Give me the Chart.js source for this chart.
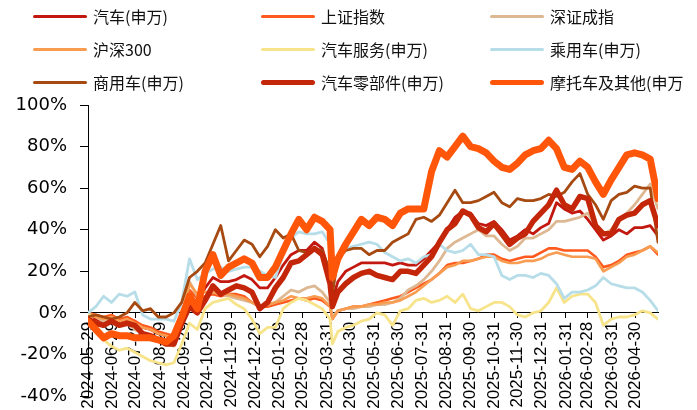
<!DOCTYPE html>
<html><head><meta charset="utf-8">
<script src="https://cdn.jsdelivr.net/npm/chart.js@4.4.1/dist/chart.umd.min.js"></script>
<style>
body{margin:0;background:#fff;}
#wrap{position:relative;width:697px;height:410px;overflow:hidden;}
#c{position:absolute;left:0;top:0;}
.lg{position:absolute;height:20px;}
.lg .ln{position:absolute;left:0;width:54px;}
.lg .tx{position:absolute;left:60px;top:0;font-family:"Noto Sans CJK SC";font-size:16px;line-height:20px;white-space:nowrap;color:#111;}
</style></head>
<body>
<div id="wrap"><canvas id="c" width="697" height="410"></canvas></div>
<script>
const dates = ['2024-05-29','2024-06-08','2024-06-18','2024-06-28','2024-07-08','2024-07-18','2024-07-28','2024-08-07','2024-08-17','2024-08-27','2024-09-06','2024-09-16','2024-09-26','2024-10-06','2024-10-16','2024-10-26','2024-11-05','2024-11-15','2024-11-25','2024-12-05','2024-12-15','2024-12-25',
'2025-01-04','2025-01-14','2025-01-24','2025-02-03','2025-02-13','2025-02-23','2025-03-05','2025-03-15','2025-03-25','2025-04-04','2025-04-07','2025-04-14','2025-04-24','2025-05-04','2025-05-14','2025-05-24','2025-06-03','2025-06-13','2025-06-23','2025-07-03','2025-07-13','2025-07-23','2025-08-02','2025-08-12','2025-08-22','2025-09-01','2025-09-11','2025-09-21','2025-10-01','2025-10-11','2025-10-21','2025-10-31','2025-11-10','2025-11-20','2025-11-30','2025-12-10','2025-12-20','2025-12-30',
'2026-01-09','2026-01-19','2026-01-29','2026-02-08','2026-02-18','2026-02-28','2026-03-10','2026-03-20','2026-03-30','2026-04-09','2026-04-19','2026-04-29','2026-05-09','2026-05-19','2026-05-29'];

const tickDates = ['2024-05-29','2024-06-29','2024-07-29','2024-08-29','2024-09-29','2024-10-29','2024-11-29','2024-12-29','2025-01-29','2025-02-28','2025-03-31','2025-04-30','2025-05-31','2025-06-30','2025-07-31','2025-08-31','2025-09-30','2025-10-31','2025-11-30','2025-12-31','2026-01-31','2026-02-28','2026-03-31','2026-04-30'];

const yTicks = [-40,-20,0,20,40,60,80,100];

const autoSW = [-2,-3,-4,-2,-4,-3,-4,-7,-8,-10,-11,-11,-2,6,5,12,17,15,15,16,18,16,12,12,17,23,28,30,30,34,31,18,6,
15,20,22,24,24,24,24,23,24,23,23,26,30,34,40,46,49,48,43,42,44,40,35,37,40,38,41,43,53,50,48,49,45,40,35,37,40,38,41,41,42,37];

const shComp = [0,-1,-2,-1,-3,-2,-4,-6,-7,-9,-10,-11,-3,11,7,8,9,8,9,9,8,5,3,3,4,5,6,7,6,7,6,3,-3,
1,2,3,3,4,5,6,7,8,10,12,14,16,19,23,24,24,25,26,28,28,26,25,26,27,27,29,31,31,30,30,30,30,27,22,23,25,28,29,30,32,28];

const szComp = [0,-2,-4,-3,-6,-5,-8,-10,-11,-13,-15,-16,-3,15,8,10,10,9,8,7,6,5,3,4,5,8,11,10,12,13,10,5,-2,
1,2,2,3,3,4,4,5,7,11,13,16,20,25,31,34,36,38,40,37,37,33,30,32,36,36,38,40,44,44,45,46,48,42,38,40,45,48,52,57,62,50];

const hs300 = [0,-2,-3,-2,-4,-3,-5,-7,-8,-10,-11,-12,-2,14,9,10,10,9,9,8,7,5,3,4,5,6,8,7,7,8,7,3,-3,
1,2,3,3,4,4,5,5,6,8,10,13,16,19,22,23,25,25,26,27,27,25,24,24,25,25,26,28,29,28,27,27,27,26,20,22,24,27,28,30,32,29];

const autoService = [0,-6,-13,-16,-18,-17,-19,-21,-23,-24,-25,-24,-15,-5,-8,2,5,6,7,4,2,-3,-10,-7,-7,2,5,7,6,4,2,-3,-15,
-9,-7,-6,-4,-3,0,-1,-6,1,2,6,7,5,6,8,5,9,2,1,3,5,5,3,-1,-2,0,1,5,12,5,8,9,9,5,-6,-3,-2,-2,-1,1,0,-3];

const passengerCar = [0,3,8,5,9,8,10,-1,-3,-3,-3,-4,5,26,16,19,21,22,20,21,22,22,20,18,17,28,36,39,38,38,39,33,15,
25,31,32,33,34,33,29,27,25,26,24,27,28,33,30,29,30,33,28,28,27,18,16,18,18,17,19,18,14,7,10,10,11,13,17,14,13,12,12,10,6,1];

const commercialVeh = [-2,-1,-2,-3,-2,0,5,1,2,-2,-2,0,5,17,20,24,33,42,25,30,35,33,27,32,40,36,38,30,29,31,30,20,9,
26,30,31,31,28,30,30,34,36,38,45,46,44,47,53,59,53,53,54,56,58,53,51,55,54,54,55,57,56,58,63,67,57,52,45,54,57,58,61,60,60,34];

const autoParts = [-3,-5,-6,-4,-6,-5,-6,-10,-11,-13,-15,-15,-5,3,0,6,13,9,11,13,12,10,2,5,12,17,24,25,28,31,28,14,3,
10,14,17,19,20,18,17,16,20,20,19,23,27,34,40,43,49,47,41,39,43,38,33,36,38,44,48,52,59,52,50,56,55,42,38,38,45,47,48,52,54,42];

const motoOther = [-4,-8,-12,-10,-11,-11,-12,-12,-12,-13,-14,-11,-2,8,2,20,28,18,22,24,26,24,17,17,22,30,38,45,40,46,44,40,17,
26,33,39,45,42,46,45,42,48,50,50,50,68,78,75,80,85,80,79,77,73,70,69,72,76,78,79,83,79,70,69,73,70,63,57,64,70,76,77,76,74,55];

const seriesNames = ['汽车(申万)','上证指数','深证成指','沪深300','汽车服务(申万)','乘用车(申万)','商用车(申万)','汽车零部件(申万)','摩托车及其他(申万'];
const seriesValues = [autoSW, shComp, szComp, hs300, autoService, passengerCar, commercialVeh, autoParts, motoOther];
const seriesColors = ['#C3180F','#FF5A1E','#DDB892','#F89C52','#F7E48A','#B7DDE8','#A64A12','#C4260A','#FF560A'];
const seriesWidths = [2.8,2.6,2.8,2.6,2.8,2.8,2.8,5.5,7];

const t0 = Date.parse(dates[0]);
const dayOf = s => Math.round((Date.parse(s) - t0) / 86400000);

// HTML legend
const wrap = document.getElementById('wrap');
const colX = [33, 261, 490];
const rowY = [16, 49, 82];
seriesNames.forEach((n, i) => {
  const d = document.createElement('div');
  d.className = 'lg';
  d.style.left = colX[i % 3] + 'px';
  d.style.top = (rowY[Math.floor(i / 3)] - 10) + 'px';
  const ln = document.createElement('div');
  ln.className = 'ln';
  const h = seriesWidths[i] > 4 ? 5 : 3;
  ln.style.height = h + 'px';
  ln.style.top = (10 - h / 2) + 'px';
  ln.style.background = seriesColors[i];
  ln.style.borderRadius = (h / 2) + 'px';
  const tx = document.createElement('div');
  tx.className = 'tx';
  tx.textContent = n;
  d.appendChild(ln); d.appendChild(tx);
  wrap.appendChild(d);
});

const datasets = seriesValues.map((vals, i) => ({
  label: seriesNames[i],
  data: vals.map((v, j) => ({x: dayOf(dates[j]), y: v})),
  borderColor: seriesColors[i],
  backgroundColor: seriesColors[i],
  borderWidth: seriesWidths[i],
  pointRadius: 0,
  tension: 0,
  fill: false,
  borderJoinStyle: 'round',
  borderCapStyle: 'round',
  order: seriesNames.length - i
}));

new Chart(document.getElementById('c'), {
  type: 'line',
  data: {datasets},
  options: {
    responsive: false,
    animation: false,
    devicePixelRatio: 1,
    layout: {padding: {top: 105, right: 39, bottom: 14, left: 0}},
    plugins: {legend: {display: false}, tooltip: {enabled: false}},
    scales: {
      x: {
        type: 'linear',
        position: {y: 0},
        min: 0,
        max: dayOf(dates[dates.length - 1]),
        afterBuildTicks: sc => { sc.ticks = tickDates.map(t => ({value: dayOf(t)})); },
        ticks: {
          autoSkip: false, minRotation: 90, maxRotation: 90, padding: 4,
          color: '#000', font: {family: 'Liberation Sans', size: 17},
          callback: (v, idx) => tickDates[idx]
        },
        grid: {drawOnChartArea: false, drawTicks: true, tickLength: 5, color: '#000'},
        border: {color: '#000', width: 1},
        afterFit: s => { s.paddingLeft = 0; s.paddingRight = 0; }
      },
      y: {
        min: yTicks[0], max: yTicks[yTicks.length - 1],
        afterBuildTicks: sc => { sc.ticks = yTicks.map(v => ({value: v})); },
        ticks: {color: '#000', padding: 13, font: {family: 'DejaVu Sans', size: 18}, callback: v => v + '%'},
        grid: {drawOnChartArea: false, drawTicks: true, tickLength: 8, color: '#000'},
        border: {color: '#000', width: 1},
        afterFit: s => { s.width = 88; s.paddingTop = 0; s.paddingBottom = 0; }
      }
    }
  }
});
</script>
</body></html>
